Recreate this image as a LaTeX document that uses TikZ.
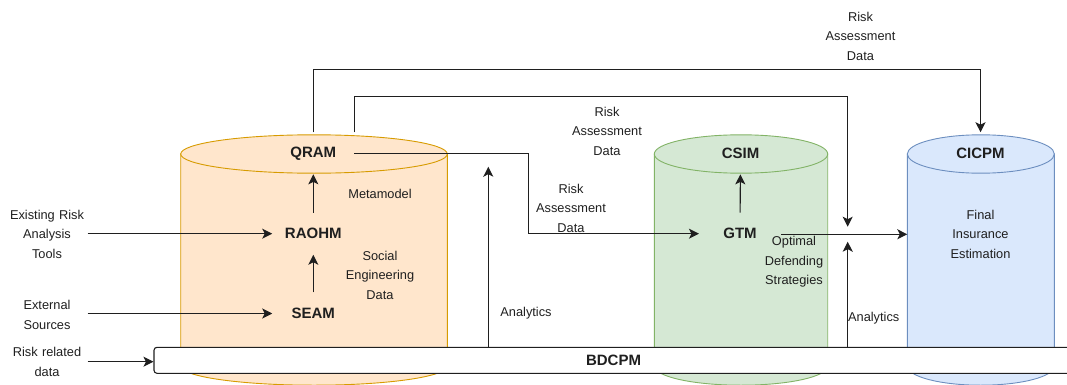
\documentclass[tikz,border=0pt]{standalone}
\usepackage{fontspec}
\setmainfont{Liberation Sans}
\usepackage{tikz}
\usetikzlibrary{arrows.meta}
\usepackage{xcolor}
\definecolor{ink}{HTML}{1F1F1F}
\definecolor{orangefill}{HTML}{FFE6CC}
\definecolor{orangeline}{HTML}{D79B00}
\definecolor{greenfill}{HTML}{D5E8D4}
\definecolor{greenline}{HTML}{82B366}
\definecolor{bluefill}{HTML}{DAE8FC}
\definecolor{blueline}{HTML}{6C8EBF}
% drum: left x, right x, fill, stroke
\newcommand{\drumshape}[4]{%
\filldraw[fill=#3,draw=#4,line width=0.9pt] (#1,154) -- (#1,366)
  arc[start angle=180,end angle=0,x radius={(#2-#1)/2},y radius=19.2] -- (#2,154) -- cycle;
\filldraw[fill=#3,draw=#4,line width=0.9pt] ({(#1+#2)/2},154) ellipse[x radius={(#2-#1)/2},y radius=19.2];}

\begin{document}
\begin{tikzpicture}[x=1pt,y=-1pt,color=ink,line width=1.1pt,
  >={Stealth[length=10pt,width=10pt,inset=2.5pt]},
  module/.style={font=\bfseries\fontsize{15}{18}\selectfont,minimum width=81pt,minimum height=41pt,inner sep=0pt},
  note/.style={font=\fontsize{12.8}{19.5}\selectfont,align=center,inner sep=0pt},
  sidenote/.style={note,text width=80pt}]
\clip (0,0) rectangle (1067,385);

\drumshape{180.7}{447.3}{orangefill}{orangeline}
\drumshape{654.3}{827.7}{greenfill}{greenline}
\drumshape{907.3}{1054.3}{bluefill}{blueline}

\node[draw,fill=white,rounded corners=3pt,minimum width=919pt,minimum height=26pt,inner sep=0pt,font=\bfseries\fontsize{15}{18}\selectfont] (bdcpm) at (613.5,360.3) {BDCPM};

\node[module] (qram) at (313.3,153.3) {QRAM};
\node[module] (raohm) at (313.3,233.7) {RAOHM};
\node[module] (seam) at (313.3,313.5) {SEAM};
\node[module] (csim) at (740.5,153.3) {CSIM};
\node[module] (gtm) at (740,233.7) {GTM};
\node[module] (cicpm) at (980.5,153.3) {CICPM};

\node[sidenote] (tools) at (47,234.3) {Existing Risk\\Analysis\\Tools};
\node[sidenote] (extsrc) at (47,315) {External\\Sources};
\node[sidenote] (riskdata) at (47,361.7) {Risk related\\data};
\node[note] (meta) at (380,194) {Metamodel};
\node[note] (social) at (380,275) {Social\\Engineering\\Data};
\node[note] (radmid) at (571,208) {Risk\\Assessment\\Data};
\node[note] (radupper) at (607,131.3) {Risk\\Assessment\\Data};
\node[note] (radtop) at (860.5,36) {Risk\\Assessment\\Data};
\node[note] (anlA) at (526,313.3) {Analytics};
\node[note] (anlB) at (873.7,318.3) {Analytics};
\node[note] (optimal) at (794,261.7) {Optimal\\Defending\\Strategies};
\node[note] (final) at (980.5,234.3) {Final\\Insurance\\Estimation};

\coordinate (riskdrop) at (847.7,226.7);
\coordinate (anltipA) at (488.3,166.7);
\coordinate (anltipB) at (847.7,241.7);
\coordinate (cicpmwall) at (907.3,234.3);

\draw[->] (raohm.west -| tools.east) -- (raohm.west);
\draw[->] (seam.west -| extsrc.east) -- (seam.west);
\draw[->] (riskdata.east) -- (riskdata.east -| bdcpm.west);
\draw[->] (seam) -- (raohm);
\draw[->] (raohm) -- (qram);
\draw[->] (gtm) -- (csim);
\draw[->] (qram.east) -- ++(174,0) |- (gtm.west);
\draw[->] (gtm.east |- cicpmwall) -- (cicpmwall);
\draw[->] (qram.north) -- ++(0,-63) -| (cicpm.north);
\draw[->] (qram.north east) -- ++(0,-35.6) -| (riskdrop);
\draw[->] (bdcpm.north -| anltipA) -- (anltipA);
\draw[->] (bdcpm.north -| anltipB) -- (anltipB);
\end{tikzpicture}
\end{document}
